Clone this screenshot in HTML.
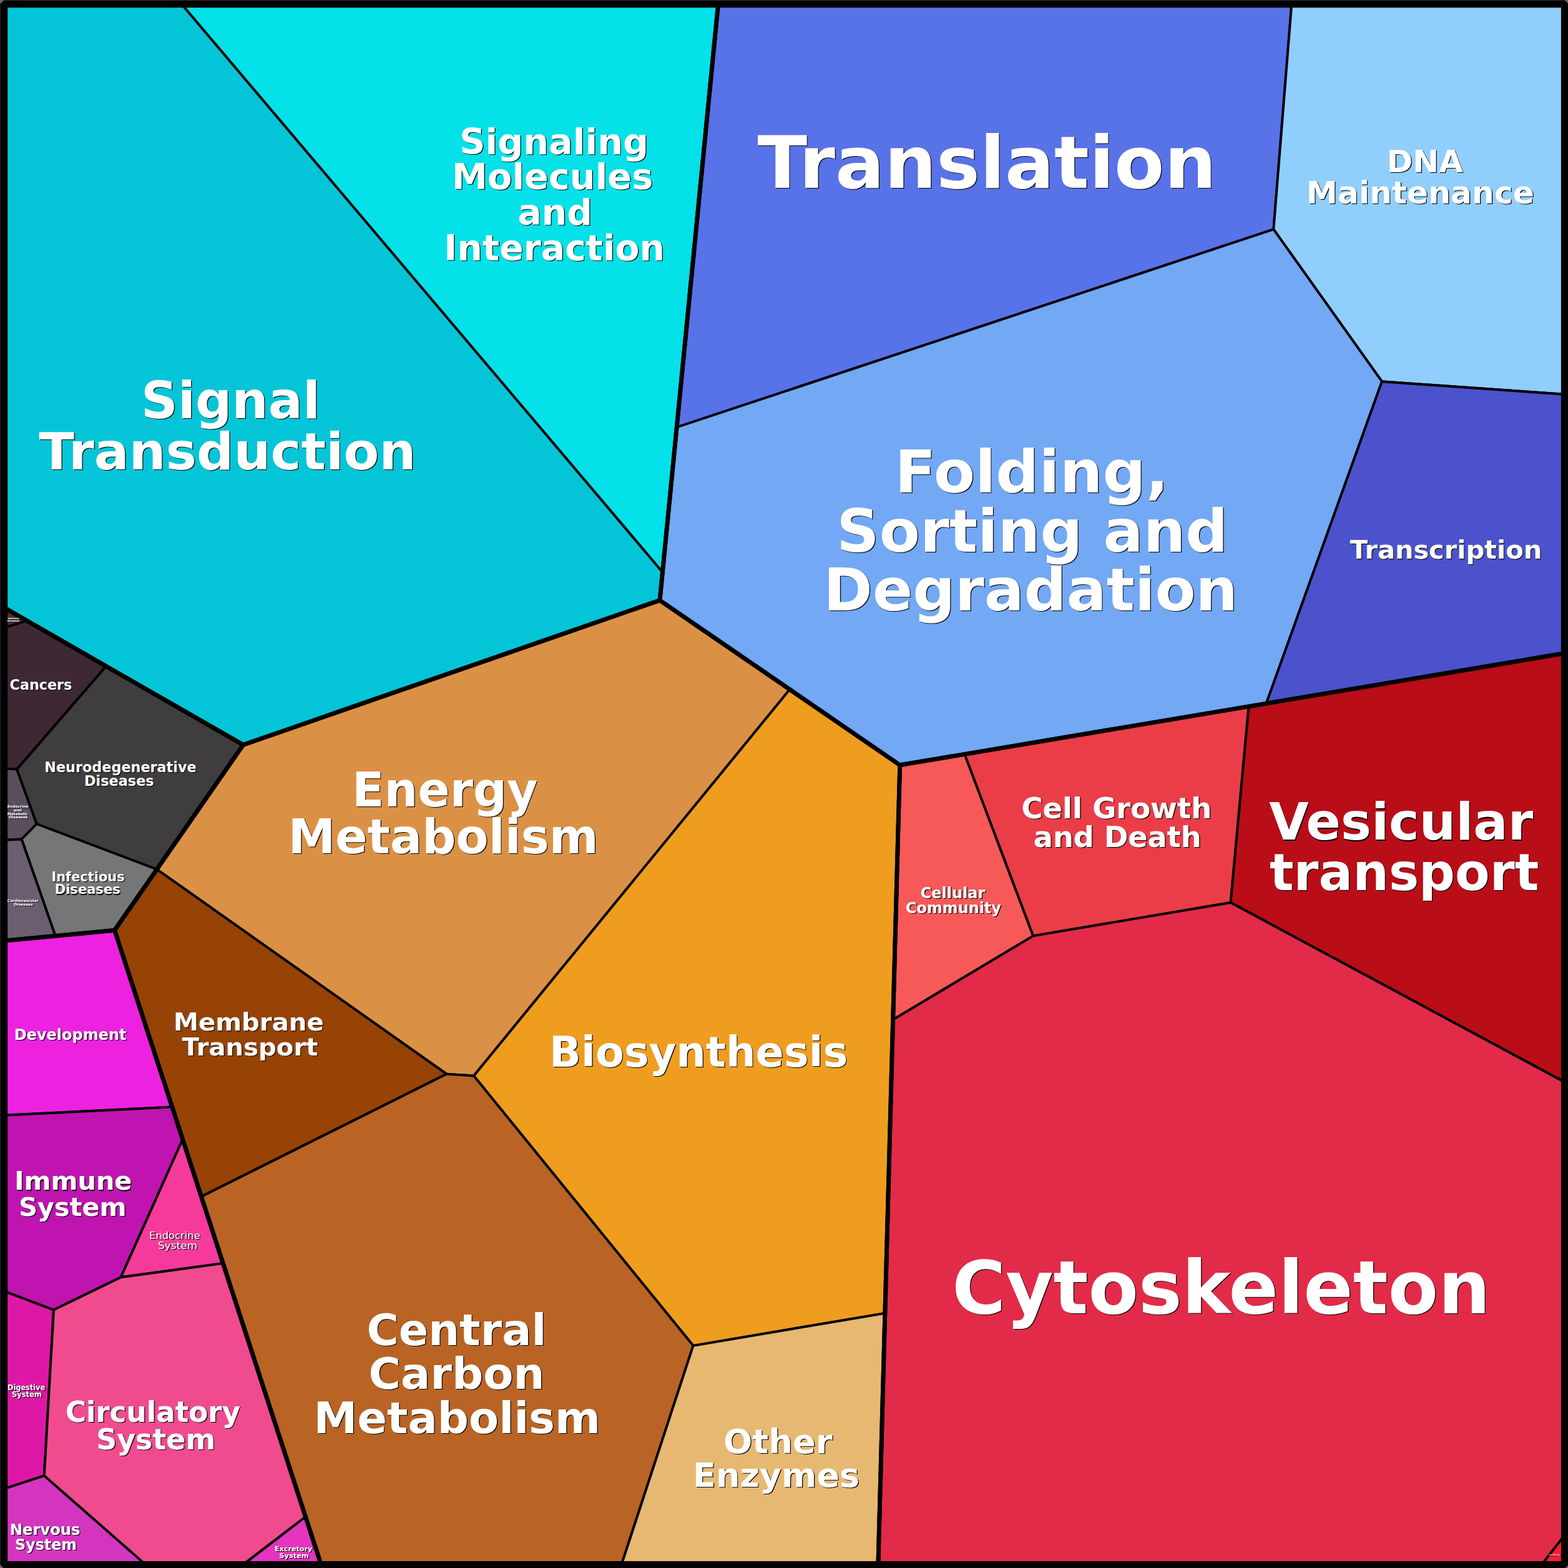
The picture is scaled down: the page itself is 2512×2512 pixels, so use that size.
<!DOCTYPE html>
<html lang="en"><head><meta charset="utf-8"><title>Proteomap</title>
<style>html,body{margin:0;padding:0;background:#666;}svg{display:block;font-family:"Liberation Sans",sans-serif;}</style></head>
<body>
<svg width="2512" height="2512" viewBox="0 0 2512 2512">
<defs>
<g id="labels" font-family="&quot;DejaVu Sans&quot;, &quot;Liberation Sans&quot;, sans-serif">
<text x="226.1" y="669.9" font-size="81.7" font-weight="bold" textLength="287.0" lengthAdjust="spacingAndGlyphs">Signal</text>
<text x="62.5" y="751.8" font-size="81.7" font-weight="bold" textLength="604.0" lengthAdjust="spacingAndGlyphs">Transduction</text>
<text x="1213.4" y="301.3" font-size="115.0" font-weight="bold" textLength="735.3" lengthAdjust="spacingAndGlyphs">Translation</text>
<text x="2221.7" y="275.8" font-size="50.3" font-weight="bold" textLength="122.2" lengthAdjust="spacingAndGlyphs">DNA</text>
<text x="2092.8" y="325.5" font-size="50.3" font-weight="bold" textLength="365.2" lengthAdjust="spacingAndGlyphs">Maintenance</text>
<text x="2162.7" y="895.0" font-size="40.9" font-weight="bold" textLength="307.5" lengthAdjust="spacingAndGlyphs">Transcription</text>
<text x="563.9" y="1291.9" font-size="75.8" font-weight="bold" textLength="297.6" lengthAdjust="spacingAndGlyphs">Energy</text>
<text x="461.8" y="1367.3" font-size="75.8" font-weight="bold" textLength="497.1" lengthAdjust="spacingAndGlyphs">Metabolism</text>
<text x="277.9" y="1651.0" font-size="39.8" font-weight="bold" textLength="240.8" lengthAdjust="spacingAndGlyphs">Membrane</text>
<text x="291.7" y="1691.2" font-size="39.8" font-weight="bold" textLength="217.7" lengthAdjust="spacingAndGlyphs">Transport</text>
<text x="587.4" y="2155.3" font-size="70.2" font-weight="bold" textLength="288.2" lengthAdjust="spacingAndGlyphs">Central</text>
<text x="590.5" y="2225.3" font-size="70.2" font-weight="bold" textLength="282.1" lengthAdjust="spacingAndGlyphs">Carbon</text>
<text x="502.6" y="2295.6" font-size="70.2" font-weight="bold" textLength="459.6" lengthAdjust="spacingAndGlyphs">Metabolism</text>
<text x="1159.1" y="2328.1" font-size="54.2" font-weight="bold" textLength="174.5" lengthAdjust="spacingAndGlyphs">Other</text>
<text x="1110.0" y="2381.8" font-size="54.2" font-weight="bold" textLength="267.2" lengthAdjust="spacingAndGlyphs">Enzymes</text>
<text x="1474.7" y="1438.8" font-size="23.9" font-weight="bold" textLength="103.6" lengthAdjust="spacingAndGlyphs">Cellular</text>
<text x="1451.1" y="1462.8" font-size="23.9" font-weight="bold" textLength="152.7" lengthAdjust="spacingAndGlyphs">Community</text>
<text x="2033.3" y="1345.4" font-size="81.1" font-weight="bold" textLength="423.0" lengthAdjust="spacingAndGlyphs">Vesicular</text>
<text x="2033.9" y="1426.2" font-size="81.1" font-weight="bold" textLength="431.5" lengthAdjust="spacingAndGlyphs">transport</text>
<text x="15.6" y="1104.8" font-size="22.2" font-weight="bold" textLength="99.6" lengthAdjust="spacingAndGlyphs">Cancers</text>
<text x="71.3" y="1237.0" font-size="22.3" font-weight="bold" textLength="243.3" lengthAdjust="spacingAndGlyphs">Neurodegenerative</text>
<text x="134.9" y="1258.7" font-size="22.3" font-weight="bold" textLength="111.8" lengthAdjust="spacingAndGlyphs">Diseases</text>
<text x="82.4" y="1411.7" font-size="21.0" font-weight="bold" textLength="117.3" lengthAdjust="spacingAndGlyphs">Infectious</text>
<text x="87.7" y="1432.4" font-size="21.0" font-weight="bold" textLength="105.0" lengthAdjust="spacingAndGlyphs">Diseases</text>
<text x="22.8" y="1666.1" font-size="24.0" font-weight="bold" textLength="179.7" lengthAdjust="spacingAndGlyphs">Development</text>
<text x="23.2" y="1906.4" font-size="41.3" font-weight="bold" textLength="188.1" lengthAdjust="spacingAndGlyphs">Immune</text>
<text x="30.3" y="1947.5" font-size="41.3" font-weight="bold" textLength="172.3" lengthAdjust="spacingAndGlyphs">System</text>
<text x="239.1" y="1985.0" font-size="16.6" font-weight="normal" textLength="81.6" lengthAdjust="spacingAndGlyphs">Endocrine</text>
<text x="253.0" y="2000.9" font-size="16.6" font-weight="normal" textLength="63.4" lengthAdjust="spacingAndGlyphs">System</text>
<text x="12.0" y="2226.7" font-size="11.4" font-weight="bold" textLength="60.2" lengthAdjust="spacingAndGlyphs">Digestive</text>
<text x="18.9" y="2237.7" font-size="11.4" font-weight="bold" textLength="47.8" lengthAdjust="spacingAndGlyphs">System</text>
<text x="104.9" y="2277.8" font-size="45.4" font-weight="bold" textLength="280.2" lengthAdjust="spacingAndGlyphs">Circulatory</text>
<text x="154.2" y="2322.2" font-size="45.4" font-weight="bold" textLength="191.0" lengthAdjust="spacingAndGlyphs">System</text>
<text x="15.8" y="2458.9" font-size="24.0" font-weight="bold" textLength="112.7" lengthAdjust="spacingAndGlyphs">Nervous</text>
<text x="24.1" y="2482.8" font-size="24.0" font-weight="bold" textLength="98.9" lengthAdjust="spacingAndGlyphs">System</text>
<text x="440.0" y="2485.3" font-size="11.2" font-weight="bold" textLength="60.2" lengthAdjust="spacingAndGlyphs">Excretory</text>
<text x="447.3" y="2496.2" font-size="11.2" font-weight="bold" textLength="47.4" lengthAdjust="spacingAndGlyphs">System</text>
<text x="736.2" y="246.9" font-size="57.1" font-weight="bold" textLength="302.9" lengthAdjust="spacingAndGlyphs">Signaling</text>
<text x="724.0" y="303.2" font-size="57.1" font-weight="bold" textLength="322.3" lengthAdjust="spacingAndGlyphs">Molecules</text>
<text x="829.4" y="360.1" font-size="57.1" font-weight="bold" textLength="119.6" lengthAdjust="spacingAndGlyphs">and</text>
<text x="711.3" y="416.6" font-size="57.1" font-weight="bold" textLength="353.8" lengthAdjust="spacingAndGlyphs">Interaction</text>
<text x="1433.6" y="788.9" font-size="95.1" font-weight="bold" textLength="438.9" lengthAdjust="spacingAndGlyphs">Folding,</text>
<text x="1340.3" y="883.8" font-size="95.1" font-weight="bold" textLength="627.1" lengthAdjust="spacingAndGlyphs">Sorting and</text>
<text x="1319.2" y="978.0" font-size="95.1" font-weight="bold" textLength="663.9" lengthAdjust="spacingAndGlyphs">Degradation</text>
<text x="880.0" y="1708.9" font-size="66.9" font-weight="bold" textLength="478.5" lengthAdjust="spacingAndGlyphs">Biosynthesis</text>
<text x="1636.5" y="1310.7" font-size="46.3" font-weight="bold" textLength="304.8" lengthAdjust="spacingAndGlyphs">Cell Growth</text>
<text x="1655.8" y="1356.8" font-size="46.3" font-weight="bold" textLength="268.8" lengthAdjust="spacingAndGlyphs">and Death</text>
<text x="1525.2" y="2103.8" font-size="116.8" font-weight="bold" textLength="862.5" lengthAdjust="spacingAndGlyphs">Cytoskeleton</text>
<text x="11.8" y="1293.8" font-size="6.0" font-weight="bold" textLength="33.4" lengthAdjust="spacingAndGlyphs">Endocrine</text>
<text x="21.8" y="1300.0" font-size="6.0" font-weight="bold" textLength="12.9" lengthAdjust="spacingAndGlyphs">and</text>
<text x="11.8" y="1305.7" font-size="6.0" font-weight="bold" textLength="32.8" lengthAdjust="spacingAndGlyphs">Metabolic</text>
<text x="13.9" y="1310.7" font-size="6.0" font-weight="bold" textLength="30.6" lengthAdjust="spacingAndGlyphs">Diseases</text>
<text x="11.8" y="1444.7" font-size="6.0" font-weight="bold" textLength="50.0" lengthAdjust="spacingAndGlyphs">Cardiovascular</text>
<text x="22.0" y="1450.6" font-size="6.0" font-weight="bold" textLength="30.7" lengthAdjust="spacingAndGlyphs">Diseases</text>
<text x="12.8" y="991.7" font-size="3.9" font-weight="bold" textLength="17.8" lengthAdjust="spacingAndGlyphs">Immune</text>
<text x="11.8" y="995.8" font-size="3.9" font-weight="bold" textLength="19.4" lengthAdjust="spacingAndGlyphs">Diseases</text>
<text x="2481.0" y="2492.2" font-size="2.6" font-weight="bold" textLength="17.8" lengthAdjust="spacingAndGlyphs">Cell Motility</text>
</g>
</defs>
<rect x="0" y="0" width="2512" height="2512" fill="#666"/>
<g stroke="#000" stroke-width="3.9" stroke-linejoin="round">
<polygon fill="#04C5D7" points="7.2,7.2 291.6,7.2 1061.4,916.4 1057.0,961.7 389.6,1193.3 7.2,973.8"/>
<polygon fill="#04E1E9" points="291.6,7.2 1150.5,7.2 1084.1,684.5 1061.4,916.4"/>
<polygon fill="#5872E8" points="1150.5,7.2 2069.2,7.2 2040.3,367.4 1084.1,684.5"/>
<polygon fill="#90CEFD" points="2069.2,7.2 2505.9,7.2 2505.9,631.8 2213.9,611.2 2040.3,367.4"/>
<polygon fill="#72A8F4" points="1084.1,684.5 2040.3,367.4 2213.9,611.2 2028.6,1127.0 2000.5,1131.7 1545.4,1208.3 1441.7,1225.7 1265.2,1104.6 1057.0,961.7 1061.4,916.4"/>
<polygon fill="#4B52CB" points="2213.9,611.2 2505.9,631.8 2505.9,1046.7 2028.6,1127.0"/>
<polygon fill="#F75959" points="1441.7,1225.7 1545.4,1208.3 1655.2,1499.3 1430.6,1633.7"/>
<polygon fill="#EB3D47" points="1545.4,1208.3 2000.5,1131.7 1971.6,1446.0 1655.2,1499.3"/>
<polygon fill="#B90D17" points="2000.5,1131.7 2028.6,1127.0 2505.9,1046.7 2505.9,1733.2 1971.6,1446.0"/>
<polygon fill="#E22B48" points="1430.6,1633.7 1655.2,1499.3 1971.6,1446.0 2505.9,1733.2 2505.9,2460.4 2470.4,2505.9 1406.9,2505.9 1417.8,2103.8"/>
<polygon fill="#FF1A30" points="2505.9,2460.4 2505.9,2505.9 2470.4,2505.9"/>
<polygon fill="#DB9145" points="389.6,1193.3 1057.0,961.7 1265.2,1104.6 759.0,1723.5 715.5,1720.6 251.3,1392.7"/>
<polygon fill="#EE9D1F" points="1265.2,1104.6 1441.7,1225.7 1430.6,1633.7 1417.8,2103.8 1110.5,2155.8 759.0,1723.5"/>
<polygon fill="#964305" points="251.3,1392.7 715.5,1720.6 322.5,1917.0 292.6,1825.3 275.8,1773.4 183.6,1490.3"/>
<polygon fill="#B96424" points="715.5,1720.6 759.0,1723.5 1110.5,2155.8 995.9,2505.9 514.2,2505.9 489.5,2430.0 357.3,2023.9 322.5,1917.0"/>
<polygon fill="#E6B871" points="1110.5,2155.8 1417.8,2103.8 1406.9,2505.9 995.9,2505.9"/>
<polygon fill="#3F3336" points="7.2,973.8 43.3,994.5 7.2,1005.3"/>
<polygon fill="#3D2834" points="7.2,1005.3 43.3,994.5 170.1,1067.3 27.0,1232.6 7.2,1231.1"/>
<polygon fill="#403D3E" points="170.1,1067.3 389.6,1193.3 251.3,1392.7 58.7,1320.0 27.0,1232.6"/>
<polygon fill="#5A4D5E" points="7.2,1231.1 27.0,1232.6 58.7,1320.0 34.6,1344.5 7.2,1345.7"/>
<polygon fill="#757678" points="58.7,1320.0 251.3,1392.7 183.6,1490.3 88.7,1499.4 34.6,1344.5"/>
<polygon fill="#6B5E70" points="7.2,1345.7 34.6,1344.5 88.7,1499.4 7.2,1507.2"/>
<polygon fill="#EC22E0" points="7.2,1507.2 88.7,1499.4 183.6,1490.3 275.8,1773.4 7.2,1786.7"/>
<polygon fill="#BF14B0" points="7.2,1786.7 275.8,1773.4 292.6,1825.3 193.6,2046.2 86.0,2098.6 7.2,2068.8"/>
<polygon fill="#F53A9B" points="292.6,1825.3 357.3,2023.9 193.6,2046.2"/>
<polygon fill="#DE18A6" points="7.2,2068.8 86.0,2098.6 70.8,2364.2 7.2,2385.0"/>
<polygon fill="#F04B8F" points="86.0,2098.6 193.6,2046.2 357.3,2023.9 489.5,2430.0 390.4,2505.9 232.4,2505.9 70.8,2364.2"/>
<polygon fill="#D435BF" points="7.2,2385.0 70.8,2364.2 232.4,2505.9 7.2,2505.9"/>
<polygon fill="#E633C0" points="489.5,2430.0 514.2,2505.9 390.4,2505.9"/>
</g>
<g fill="none" stroke="#000" stroke-width="6.8" stroke-linejoin="round">
<polygon points="7.2,7.2 1150.5,7.2 1057.0,961.7 389.6,1193.3 7.2,973.8"/>
<polygon points="1150.5,7.2 2505.9,7.2 2505.9,1046.7 1441.7,1225.7 1057.0,961.7"/>
<polygon points="1441.7,1225.7 2505.9,1046.7 2505.9,2505.9 1406.9,2505.9"/>
<polygon points="1057.0,961.7 1441.7,1225.7 1406.9,2505.9 514.2,2505.9 183.6,1490.3 389.6,1193.3"/>
<polygon points="7.2,973.8 389.6,1193.3 183.6,1490.3 7.2,1507.2"/>
<polygon points="7.2,1507.2 183.6,1490.3 514.2,2505.9 7.2,2505.9"/>
</g>
<rect x="6.3" y="6.3" width="2500.5" height="2500.5" fill="none" stroke="#000" stroke-width="11.8" stroke-linejoin="bevel"/>
<use href="#labels" fill="#000" transform="translate(1.2 1.2)"/>
<use href="#labels" fill="#fff"/>
</svg>
</body></html>
